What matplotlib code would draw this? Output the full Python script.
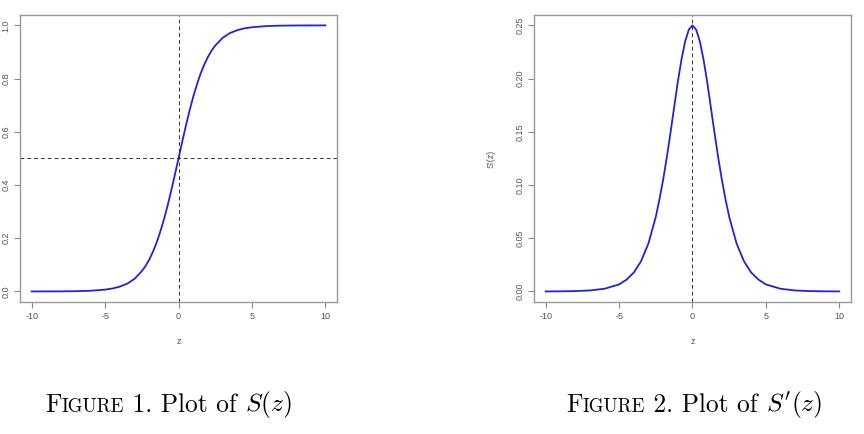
import numpy as np
import matplotlib
matplotlib.use("Agg")
import matplotlib.pyplot as plt
from matplotlib.offsetbox import TextArea, HPacker, AnnotationBbox

# z grid and values
z_vals = [-10, -9, -8, -7, -6, -5, -4.5, -4, -3.5, -3, -2.5, -2.25, -2, -1.75, -1.5,
          -1.25, -1, -0.75, -0.5, -0.25, 0, 0.25, 0.5, 0.75, 1, 1.25, 1.5, 1.75, 2,
          2.25, 2.5, 3, 3.5, 4, 4.5, 5, 6, 7, 8, 9, 10]
s_vals = [0.0, 0.0001, 0.0003, 0.0009, 0.0025, 0.0067, 0.011, 0.018, 0.029, 0.047,
          0.076, 0.095, 0.119, 0.148, 0.182, 0.223, 0.269, 0.321, 0.378, 0.438, 0.5,
          0.562, 0.622, 0.679, 0.731, 0.777, 0.818, 0.852, 0.881, 0.905, 0.924, 0.953,
          0.971, 0.982, 0.989, 0.993, 0.9975, 0.9991, 0.9997, 0.9999, 1.0]
ds_vals = [0.0, 0.0001, 0.0003, 0.0009, 0.0025, 0.0066, 0.011, 0.0177, 0.0285, 0.0452,
           0.0701, 0.0865, 0.105, 0.126, 0.149, 0.173, 0.197, 0.218, 0.235, 0.246, 0.25,
           0.246, 0.235, 0.218, 0.197, 0.173, 0.149, 0.126, 0.105, 0.0865, 0.0701,
           0.0452, 0.0285, 0.0177, 0.011, 0.0066, 0.0025, 0.0009, 0.0003, 0.0001, 0.0]

x_ticks = [-10, -5, 0, 5, 10]
y_ticks_s = [0.0, 0.2, 0.4, 0.6, 0.8, 1.0]
y_ticks_ds = [0.00, 0.05, 0.10, 0.15, 0.20, 0.25]

plt.rcParams['mathtext.fontset'] = 'cm'
plt.rcParams['font.family'] = ['Liberation Sans', 'DejaVu Sans']
grey = '#555555'

fig = plt.figure(figsize=(8.64, 4.34), dpi=100)
ax1 = fig.add_axes([0.0231, 0.304, 0.367, 0.662])
ax2 = fig.add_axes([0.618, 0.304, 0.367, 0.662])


def r_style(ax, yticks, fmt):
    for sp in ax.spines.values():
        sp.set_color('#999999')
        sp.set_linewidth(1.0)
    ax.set_xticks(x_ticks)
    ax.set_xticklabels([str(t) for t in x_ticks])
    ax.set_yticks(yticks)
    ax.set_yticklabels([fmt % t for t in yticks], rotation=90, va='center')
    ax.tick_params(colors='#888888', labelcolor=grey, labelsize=6.5, length=4, width=0.8, pad=3)
    ax.set_xlabel('z', fontsize=6.5, color=grey, labelpad=12)


ax1.plot(z_vals, s_vals, color='#2222dd', lw=1.3)
ax1.axvline(0, color='#333333', lw=0.7, ls=(0, (4, 3)))
ax1.axhline(0.5, color='#333333', lw=0.7, ls=(0, (4, 3)))
ax1.set_xlim(-10.8, 10.8)
ax1.set_ylim(-0.04, 1.04)
r_style(ax1, y_ticks_s, '%.1f')

ax2.plot(z_vals, ds_vals, color='#2222dd', lw=1.3)
ax2.axvline(0, color='#333333', lw=0.7, ls=(0, (4, 3)))
ax2.set_xlim(-10.8, 10.8)
ax2.set_ylim(-0.01, 0.26)
r_style(ax2, y_ticks_ds, '%.2f')
ax2.set_ylabel("S'(z)", fontsize=6.5, color=grey, labelpad=14)


# captions in LaTeX-like small caps
def caption(x, y, num, sym):
    big = dict(family='cmr10', size=18.3)
    small = dict(family='cmr10', size=13.6)
    parts = [TextArea("F", textprops=big),
             TextArea("IGURE", textprops=small),
             TextArea(" %d. Plot of " % num, textprops=big),
             TextArea(sym, textprops=dict(size=18.3))]
    pack = HPacker(children=parts, align='baseline', pad=0, sep=0)
    ab = AnnotationBbox(pack, (x, y), xycoords='figure pixels',
                        box_alignment=(0, 0.5), frameon=False)
    fig.add_artist(ab)


caption(45, 434 - 405, 1, r"$S(z)$")
caption(566, 434 - 405, 2, r"$S'(z)$")

fig.savefig('out.png', dpi=100)
